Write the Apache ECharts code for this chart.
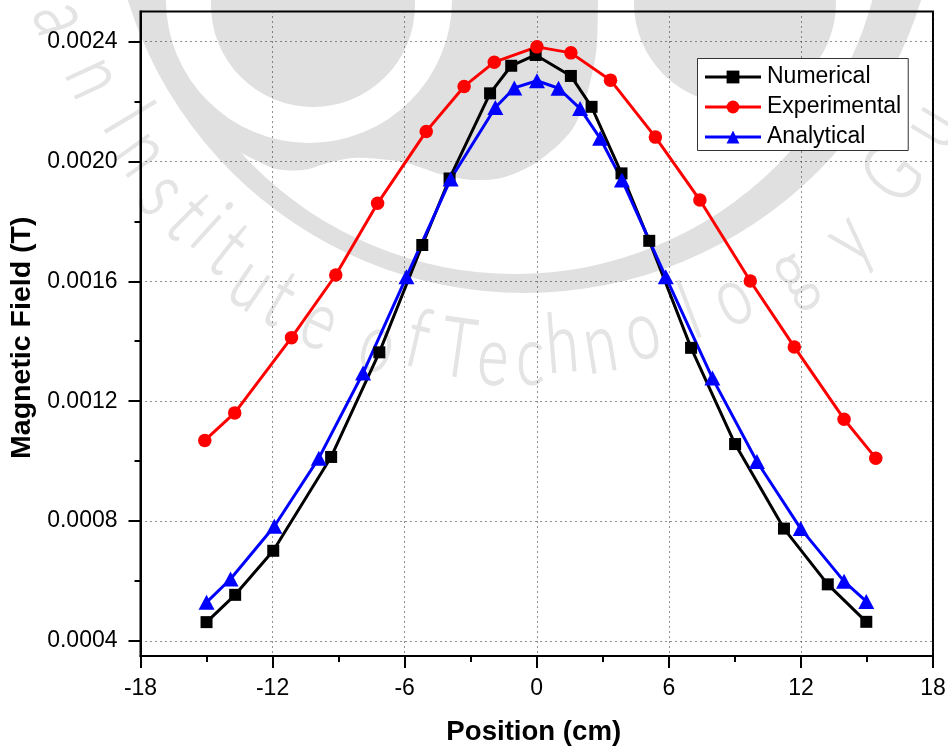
<!DOCTYPE html>
<html>
<head>
<meta charset="utf-8">
<title>Magnetic Field</title>
<script src="https://cdn.jsdelivr.net/npm/echarts@6/dist/echarts.min.js"></script>
<style>
html, body { margin: 0; padding: 0; background: #fff; }
#chart { width: 948px; height: 747px; }
</style>
</head>
<body>
<div id="chart"></div>
<script>
// values
const numericalX = [-15, -13.7, -11.97, -9.34, -7.15, -5.2, -3.96, -2.12, -1.16, -0.05, 1.55, 2.49, 3.85, 5.11, 7.01, 9.01, 11.23, 13.22, 14.97];
const numericalY = [0.000463, 0.000554, 0.000701, 0.001014, 0.001363, 0.001721, 0.001943, 0.002227, 0.002319, 0.002355, 0.002285, 0.002182, 0.00196, 0.001735, 0.001378, 0.001057, 0.000775, 0.000589, 0.000464];
const experimentalX = [-15.08, -13.72, -11.14, -9.13, -7.23, -5.02, -3.3, -1.93, 0.01, 1.55, 3.35, 5.39, 7.41, 9.7, 11.7, 13.96, 15.4];
const experimentalY = [0.001069, 0.001161, 0.001412, 0.001621, 0.00186, 0.0021, 0.00225, 0.002331, 0.002382, 0.002362, 0.002271, 0.002081, 0.001871, 0.001601, 0.001381, 0.00114, 0.00101];
const analyticalX = [-15, -13.91, -11.92, -9.9, -7.89, -5.92, -3.91, -1.88, -1.02, 0.01, 0.99, 1.97, 2.88, 3.87, 5.86, 7.98, 10, 11.99, 13.96, 14.97];
const analyticalY = [0.000529, 0.000607, 0.000783, 0.00101, 0.001294, 0.001615, 0.001941, 0.00218, 0.002245, 0.002269, 0.002244, 0.002176, 0.002077, 0.001938, 0.001615, 0.001277, 0.000999, 0.000775, 0.000599, 0.000532];
const yMajorTicks = [0.0004, 0.0008, 0.0012, 0.0016, 0.002, 0.0024];
const yMinorTicks = [0.0006, 0.001, 0.0014, 0.0018, 0.0022];

const FONT = '"Liberation Sans", Arial, sans-serif';
const MARK = '#e0e0e0';

// watermark letters, placed by hand around the seal
const sealCx = 524, sealCy = -120;
const markLetters = [
    ['a', 62, 18], ['n', 95, 77], ['I', 128, 118], ['n', 143, 152], ['s', 163, 193], ['t', 188, 217], ['i', 210, 227],
    ['t', 229, 250], ['u', 252, 283], ['t', 280, 300], ['e', 320, 322], ['o', 378, 345], ['f', 418, 340], ['T', 458, 350],
    ['e', 493, 358], ['c', 530, 358], ['h', 562, 345], ['n', 600, 345], ['o', 642, 332], ['l', 690, 312], ['o', 732, 298],
    ['g', 790, 272], ['y', 848, 238], ['G', 893, 175], ['u', 930, 125]
];
const sealCentre = [[150, -40], [598, -40], [598, 0], [595, 60], [575, 125], [540, 160], [505, 177], [473, 180], [440, 174],
    [407, 163], [380, 159], [353, 158], [328, 163], [303, 170], [270, 167], [200, 120]];

function watermark() {
    const fill = {fill: MARK};
    const white = {fill: '#fff'};
    const els = [
        {type: 'circle', z: -9, silent: true, shape: {cx: 524.5, cy: -122, r: 415}, style: fill},
        {type: 'circle', z: -9, silent: true, shape: {cx: 515, cy: -96, r: 370}, style: white},
        {type: 'polygon', z: -9, silent: true, shape: {points: sealCentre, smooth: 0.3}, style: fill},
        {type: 'circle', z: -9, silent: true, shape: {cx: 309, cy: 0, r: 143}, style: white},
        {type: 'circle', z: -9, silent: true, shape: {cx: 313, cy: 5, r: 102}, style: fill},
        {type: 'circle', z: -9, silent: true, shape: {cx: 735, cy: 3, r: 101}, style: fill}
    ];
    markLetters.forEach(function (m) {
        els.push({
            type: 'text', z: -8, silent: true,
            x: m[1], y: m[2],
            rotation: -Math.atan2(sealCx - m[1], m[2] - sealCy),
            scaleX: 0.72,
            style: {
                text: m[0], fill: '#e4e4e4', stroke: '#e4e4e4', lineWidth: 1.5,
                font: '300 82px Lato, "Noto Sans", sans-serif', align: 'center', verticalAlign: 'middle'
            }
        });
    });
    return els;
}

function pairs(xs, ys) {
    return xs.map(function (x, i) {
        return [x, ys[i]];
    });
}

function lineSeries(name, xs, ys, color, symbol, size) {
    return {
        name: name,
        type: 'line',
        data: pairs(xs, ys),
        symbol: symbol,
        symbolSize: size,
        showAllSymbol: true,
        color: color,
        lineStyle: {color: color, width: 3},
        itemStyle: {color: color},
        animation: false
    };
}

const gridDots = {color: '#222', width: 1, type: [1, 4]};
const chart = echarts.init(document.getElementById('chart'), null, {renderer: 'canvas'});
chart.setOption({
    backgroundColor: '#fff',
    animation: false,
    graphic: {elements: watermark()},
    grid: {
        left: 140.5, right: 15, top: 11.5, bottom: 91,
        outerBoundsMode: 'none',
        show: true, borderColor: '#000', borderWidth: 2, backgroundColor: 'transparent'
    },
    legend: {
        left: 697.5,
        top: 58.5,
        orient: 'vertical',
        backgroundColor: '#fff',
        borderColor: '#333',
        borderWidth: 1,
        borderRadius: 0,
        padding: [7, 7, 2, 6],
        itemWidth: 56,
        itemHeight: 16,
        itemGap: 7,
        lineStyle: {width: 3},
        textStyle: {fontFamily: FONT, fontSize: 23, lineHeight: 22, color: '#000', padding: [0, 0, 0, 1]},
        data: ['Numerical', 'Experimental', 'Analytical']
    },
    xAxis: {
        type: 'value',
        min: -18,
        max: 18,
        interval: 6,
        name: 'Position (cm)',
        nameLocation: 'middle',
        nameGap: 62,
        nameTextStyle: {fontFamily: FONT, fontSize: 27.6, fontWeight: 'bold', color: '#000', padding: [0, 6, 0, 0]},
        axisLine: {show: true, onZero: false, lineStyle: {color: '#000', width: 2}},
        axisTick: {show: true, length: 12, lineStyle: {color: '#000', width: 2}},
        minorTick: {show: true, splitNumber: 2, length: 6, lineStyle: {color: '#000', width: 2}},
        axisLabel: {fontFamily: FONT, fontSize: 23, color: '#000', margin: 21},
        splitLine: {show: true, lineStyle: gridDots}
    },
    yAxis: [
        {
            type: 'value',
            min: 0.00035,
            max: 0.0025,
            name: 'Magnetic Field (T)',
            nameLocation: 'middle',
            nameGap: 94,
            nameTextStyle: {fontFamily: FONT, fontSize: 28.5, fontWeight: 'bold', color: '#000', padding: [0, 8, 0, 0]},
            axisLine: {show: true, onZero: false, lineStyle: {color: '#000', width: 2}},
            axisTick: {show: true, length: 12, customValues: yMajorTicks, lineStyle: {color: '#000', width: 2}},
            axisLabel: {
                fontFamily: FONT, fontSize: 23, color: '#000', margin: 23,
                customValues: yMajorTicks,
                formatter: function (v) {
                    return v.toFixed(4);
                }
            },
            splitLine: {show: true, customValues: yMajorTicks, lineStyle: gridDots}
        },
        {
            type: 'value',
            position: 'left',
            min: 0.00035,
            max: 0.0025,
            axisLine: {show: false, onZero: false},
            axisTick: {show: true, length: 6, customValues: yMinorTicks, lineStyle: {color: '#000', width: 2}},
            axisLabel: {show: false},
            splitLine: {show: false}
        }
    ],
    series: [
        lineSeries('Numerical', numericalX, numericalY, '#000', 'rect', 12),
        lineSeries('Experimental', experimentalX, experimentalY, '#ff0000', 'circle', 13.5),
        lineSeries('Analytical', analyticalX, analyticalY, '#0000ff', 'triangle', [16, 15])
    ]
});
</script>
</body>
</html>
